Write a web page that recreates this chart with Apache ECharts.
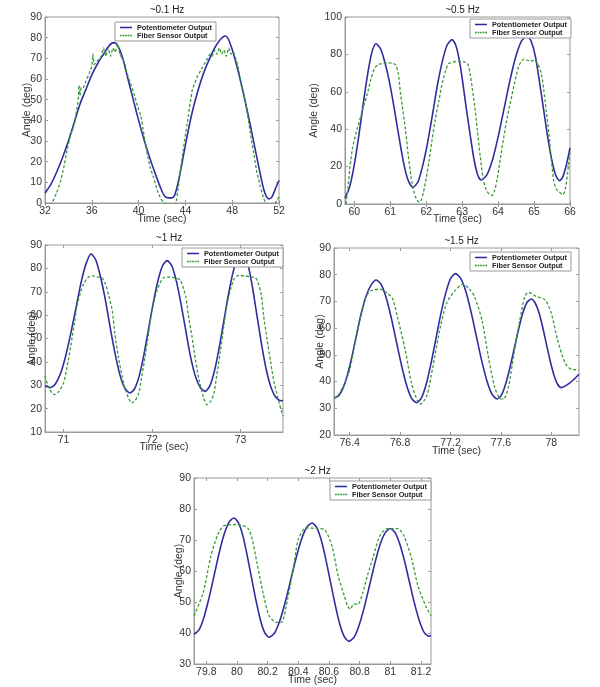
<!DOCTYPE html>
<html>
<head>
<meta charset="utf-8">
<script src="https://cdn.jsdelivr.net/npm/echarts@6/dist/echarts.min.js"></script>
<style>html,body{margin:0;padding:0;background:#fff}#c{width:600px;height:687px}</style>
</head>
<body>
<div id="c"></div>
<script>
// ---- Data (time in sec, angle in deg) ----
var titles = ['~0.1 Hz', '~0.5 Hz', '~1 Hz', '~1.5 Hz', '~2 Hz'];
var seriesNames = ['Potentiometer Output', 'Fiber Sensor Output'];

var p1Pot = [[32,4.8],[32.5,9],[33,15],[33.5,22],[34,30],[34.5,39],[35,48],[35.5,55],[36,62],[36.5,67.5],[37,72],[37.4,75.5],[37.7,77.3],[37.9,77.6],[38.1,77],[38.4,74],[38.7,69],[39,62],[39.5,51],[40,40],[40.5,30],[41,21],[41.5,13],[41.9,7],[42.2,3.5],[42.5,2.5],[42.8,2.5],[43.05,3.5],[43.3,8],[43.6,16],[44,28],[44.5,42],[45,53],[45.5,62],[46,69],[46.5,75],[46.9,78.5],[47.2,80.3],[47.4,80.8],[47.6,80],[47.8,77.5],[48.1,72.5],[48.5,64],[49,52],[49.5,39],[50,25],[50.4,14],[50.7,6.5],[50.95,2.8],[51.15,2],[51.4,3],[51.7,7],[52,11]];
var p1Fib = [[32,0],[32.3,-1],[32.6,0],[33,5],[33.3,10],[33.6,17],[33.9,26],[34.2,33],[34.5,38],[34.7,45],[34.85,50],[34.9,57],[35,52],[35.1,56],[35.3,56],[35.5,59],[35.8,63],[36,66],[36.1,72],[36.2,67],[36.5,69],[36.8,71],[37,75],[37.2,71],[37.4,75],[37.6,71],[37.8,75],[38,73],[38.2,77],[38.4,72],[38.6,70],[38.8,68],[39,63],[39.3,58],[39.6,53],[39.9,47],[40.2,42],[40.4,35],[40.6,28],[40.8,22],[41,17],[41.3,12],[41.6,6],[41.9,2],[42.2,0],[42.6,-1],[43,-1],[43.2,0],[43.4,8],[43.6,17],[43.8,25],[44,33],[44.2,40],[44.4,48],[44.6,55],[44.8,58],[45,61],[45.3,64],[45.6,67],[45.9,70],[46.1,72],[46.3,71],[46.5,74],[46.7,72],[46.9,75],[47.1,72],[47.3,74],[47.5,71],[47.7,75],[47.9,72],[48.1,73],[48.3,70],[48.5,66],[48.7,60],[49,53],[49.3,43],[49.6,32],[49.9,22],[50.1,15],[50.4,8],[50.7,2],[51,-1],[51.4,-1],[51.7,0],[52,3]];

var p2Pot = [[59.74,3.2],[59.85,8],[59.95,16],[60.05,27],[60.15,40],[60.25,54],[60.35,67],[60.43,76],[60.5,82],[60.6,85.7],[60.73,83],[60.86,75],[60.99,64],[61.12,50],[61.24,36],[61.37,22],[61.5,12.5],[61.63,8.9],[61.77,11.9],[61.9,20.4],[62.04,33],[62.18,48.4],[62.31,63.5],[62.45,76.4],[62.58,84.9],[62.72,87.9],[62.82,85],[62.92,76.9],[63.02,64.5],[63.12,50.4],[63.23,36],[63.33,23.8],[63.43,15.7],[63.53,12.8],[63.69,15.7],[63.85,24.1],[64.01,36.7],[64.17,51.4],[64.33,66.1],[64.49,78.7],[64.65,87.1],[64.81,90],[64.92,87],[65.04,78.7],[65.15,65.5],[65.26,51.3],[65.37,37],[65.49,23.8],[65.6,15.5],[65.71,12.5],[65.8,14.5],[65.9,21],[66,30]];
var p2Fib = [[59.77,0],[59.82,8],[59.88,20],[59.95,30],[60.05,38],[60.15,45],[60.25,52],[60.35,58],[60.45,66],[60.55,72],[60.65,74.5],[60.75,75],[60.9,75.5],[61.05,75.3],[61.15,74.5],[61.22,70],[61.28,60],[61.35,50],[61.42,40],[61.5,26],[61.58,14],[61.65,7],[61.72,3],[61.8,1],[61.85,1.5],[61.92,6],[62,14],[62.08,23],[62.16,34],[62.25,45],[62.35,55],[62.45,65],[62.55,72],[62.62,75],[62.75,76],[62.9,76.3],[63.05,76],[63.15,75],[63.22,70],[63.28,62],[63.35,52],[63.42,40],[63.5,26],[63.58,14],[63.66,8],[63.74,5.5],[63.83,4.6],[63.9,7],[63.97,13],[64.06,24],[64.16,36],[64.26,47],[64.36,56],[64.46,65],[64.56,73],[64.64,76],[64.72,77.5],[64.8,77],[64.9,76.3],[65,77],[65.1,75],[65.2,70],[65.27,61],[65.34,50],[65.41,38],[65.48,24],[65.55,12],[65.62,8],[65.7,6.5],[65.8,5],[65.87,8],[65.93,16],[66,28]];

var p3Pot = [[70.79,29.8],[70.85,29],[70.907,30.5],[70.965,35],[71.02,42],[71.08,52],[71.14,63],[71.195,73.5],[71.25,81.5],[71.31,86.2],[71.365,83.5],[71.42,76],[71.475,66],[71.53,54],[71.585,43],[71.64,34],[71.695,28.5],[71.75,26.7],[71.8025,28.5],[71.855,34],[71.9075,43],[71.96,54],[72.0125,65],[72.065,74.5],[72.1175,81],[72.17,83.3],[72.224,81],[72.278,74],[72.331,64],[72.385,52.5],[72.439,41.5],[72.493,33.5],[72.546,29],[72.6,27.4],[72.6525,29.7],[72.705,36.1],[72.7575,45.8],[72.81,57.2],[72.8625,68.6],[72.915,78.3],[72.9675,84.7],[73.02,87],[73.075,83],[73.13,73],[73.185,60],[73.24,47],[73.295,36],[73.35,28.5],[73.405,24.5],[73.46,23.4],[73.48,23.5]];
var p3Fib = [[70.79,34],[70.83,29],[70.87,26.7],[70.9,26],[70.95,27.5],[71,31],[71.04,38],[71.08,46.6],[71.12,56],[71.15,63.7],[71.19,69.5],[71.23,73.6],[71.28,76.2],[71.33,76.8],[71.38,76.3],[71.43,76],[71.47,73.6],[71.51,68.5],[71.55,62],[71.58,52],[71.62,42],[71.66,34],[71.7,28],[71.77,22.4],[71.81,23.5],[71.85,26.7],[71.88,33],[71.92,42],[71.96,52],[72,62],[72.06,71],[72.13,76],[72.2,76.3],[72.27,75.8],[72.32,75],[72.38,68],[72.41,60],[72.45,51],[72.49,41],[72.53,32.6],[72.58,25],[72.62,21.7],[72.66,23],[72.7,26.7],[72.73,34],[72.77,43.8],[72.81,55],[72.85,65],[72.92,75],[72.98,77],[73.05,76.8],[73.12,76.3],[73.17,76],[73.23,69.6],[73.26,60],[73.3,49.5],[73.34,40],[73.38,31],[73.44,22],[73.48,16.7]];

var p4Pot = [[76.275,33.75],[76.317,35],[76.359,39],[76.401,46],[76.443,55],[76.484,64],[76.526,71.5],[76.568,76],[76.61,78],[76.65,76.3],[76.69,71.3],[76.73,63.8],[76.77,55],[76.81,46.3],[76.85,38.8],[76.89,33.8],[76.93,32.1],[76.969,33.9],[77.008,39.2],[77.046,47],[77.085,56.2],[77.124,65.5],[77.163,73.3],[77.201,78.6],[77.24,80.4],[77.281,78.6],[77.323,73.5],[77.364,65.9],[77.405,57],[77.446,48.1],[77.488,40.4],[77.529,35.3],[77.57,33.5],[77.604,34.9],[77.637,39],[77.671,45.1],[77.705,52.2],[77.739,59.3],[77.772,65.4],[77.806,69.5],[77.84,70.9],[77.87,69.6],[77.9,66.1],[77.93,60.7],[77.96,54.3],[77.99,48],[78.02,42.6],[78.05,39],[78.08,37.75],[78.15,39.6],[78.22,42.75]];
var p4Fib = [[76.275,33.75],[76.31,35],[76.35,38.5],[76.4,44.4],[76.45,56.9],[76.49,65.6],[76.53,71.9],[76.57,74],[76.64,74.6],[76.7,73],[76.74,71],[76.78,64],[76.84,51.9],[76.89,39.4],[76.94,32.5],[76.96,31.6],[77.01,34.4],[77.06,45.6],[77.12,60.6],[77.17,69.4],[77.23,73.75],[77.3,76.5],[77.35,74.6],[77.39,71.9],[77.45,63],[77.5,49.4],[77.55,38],[77.59,33.75],[77.62,33.4],[77.66,38],[77.7,49.4],[77.75,63],[77.79,71.9],[77.82,73.4],[77.88,71.9],[77.95,70.6],[78,65.6],[78.05,55.6],[78.11,46.9],[78.16,44.6],[78.22,44.4]];

var p5Pot = [[79.72,39.6],[79.7525,41],[79.785,45.1],[79.8175,51.2],[79.85,58.3],[79.8825,65.5],[79.915,71.6],[79.9475,75.7],[79.98,77.1],[80.009,75.6],[80.038,71.5],[80.066,65.2],[80.095,57.8],[80.124,50.5],[80.153,44.2],[80.181,40.1],[80.21,38.6],[80.245,40],[80.28,44],[80.315,50],[80.35,57],[80.385,64.1],[80.42,70.1],[80.455,74.1],[80.49,75.5],[80.52,74],[80.55,69.9],[80.58,63.6],[80.61,56.4],[80.64,49.2],[80.67,42.9],[80.7,38.8],[80.73,37.3],[80.764,38.7],[80.797,42.6],[80.831,48.5],[80.865,55.5],[80.899,62.5],[80.932,68.4],[80.966,72.3],[81,73.7],[81.031,72.4],[81.062,68.6],[81.094,62.9],[81.125,56.3],[81.156,49.8],[81.188,44.1],[81.219,40.3],[81.25,39],[81.265,39.1]];
var p5Fib = [[79.72,45.5],[79.78,53],[79.83,64.8],[79.88,72.3],[79.92,74.7],[80,75],[80.07,73.9],[80.1,70.2],[80.13,62.7],[80.17,53],[80.21,45.5],[80.26,43.4],[80.29,43.4],[80.33,50.9],[80.37,61.6],[80.4,70.2],[80.45,73.9],[80.52,73.7],[80.57,73.4],[80.62,68],[80.66,58.4],[80.7,52],[80.72,48.8],[80.74,47.7],[80.76,49.3],[80.79,49.3],[80.82,53],[80.85,58.4],[80.89,64.8],[80.93,71.2],[80.98,73.7],[81.05,73.7],[81.09,71.2],[81.14,63.8],[81.18,55.2],[81.23,48.8],[81.265,45.5]];

// tick labels
var xTicks1 = [32,36,40,44,48,52];
var xTicks2 = [60,61,62,63,64,65,66];
var xTicks3 = [71,72,73];
var xTicks4 = [76.4,76.8,77.2,77.6,78];
var xTicks5 = [79.8,80,80.2,80.4,80.6,80.8,81,81.2];
var yRanges = [[0,90,10],[0,100,20],[10,90,10],[20,90,10],[30,90,10]];
var xRanges = [[32,52],[59.74,66],[70.79,73.48],[76.275,78.22],[79.72,81.265]];

// ---- Layout ----
var layout = [
  {l:45,t:17,w:234,h:186, lg:[115,22], yGap:12, xGap:11},
  {l:345,t:17,w:225,h:187, lg:[470,19], yGap:25, xGap:10},
  {l:45,t:245,w:238,h:187, lg:[182,248], yGap:7, xGap:10},
  {l:334,t:248,w:245,h:187, lg:[470,252], yGap:8, xGap:11},
  {l:194,t:478,w:237,h:187, lg:[330,481], yGap:9, xGap:11}
];
var pots = [p1Pot,p2Pot,p3Pot,p4Pot,p5Pot];
var fibs = [p1Fib,p2Fib,p3Fib,p4Fib,p5Fib];
var xTicks = [xTicks1,xTicks2,xTicks3,xTicks4,xTicks5];

var FONT = 'Liberation Sans, Arial, sans-serif';
var BLUE = '#2e2ea0', GREEN = '#3a9a3a', AX = '#9a9a9a';
var ICON_SOLID = 'path://M0,0H20V2.6H0Z';
var ICON_DASH = 'path://M0,0h3v2.6h-3zM4.25,0h3v2.6h-3zM8.5,0h3v2.6h-3zM12.75,0h3v2.6h-3zM17,0h3v2.6h-3z';
var grids=[], xAxes=[], yAxes=[], xTop=[], yRight=[], series=[], legends=[], tits=[];
var fmt = function(v){return String(+v.toFixed(1));};
for (var i=0;i<5;i++){
  var L = layout[i];
  grids.push({left:L.l, top:L.t, width:L.w, height:L.h, show:true, borderColor:AX, borderWidth:1, backgroundColor:'#fff'});
  tits.push({text:titles[i], left:L.l+L.w/2, top:L.t-17, textAlign:'center',
    textStyle:{fontSize:10, fontWeight:'normal', color:'#222', fontFamily:FONT}});
  var tick = {show:true, inside:true, length:3, lineStyle:{color:AX}};
  var lab = {color:'#333', fontSize:10.5, fontFamily:FONT, margin:3};
  var nts = {color:'#333', fontSize:10.5, fontFamily:FONT};
  xAxes.push({type:'value', gridIndex:i, min:xRanges[i][0], max:xRanges[i][1],
    name:'Time (sec)', nameLocation:'middle', nameGap:L.xGap, nameMoveOverlap:false, nameTextStyle:nts,
    axisLine:{show:true, lineStyle:{color:AX}}, splitLine:{show:false},
    axisTick:Object.assign({customValues:xTicks[i]}, tick),
    axisLabel:Object.assign({customValues:xTicks[i], formatter:fmt}, lab)});
  xTop.push({type:'value', gridIndex:i, position:'top', min:xRanges[i][0], max:xRanges[i][1],
    axisLine:{show:false}, splitLine:{show:false}, axisLabel:{show:false},
    axisTick:Object.assign({customValues:xTicks[i]}, tick)});
  yAxes.push({type:'value', gridIndex:i, min:yRanges[i][0], max:yRanges[i][1], interval:yRanges[i][2],
    name:'Angle (deg)', nameLocation:'middle', nameGap:L.yGap, nameRotate:90, nameMoveOverlap:false, nameTextStyle:nts,
    axisLine:{show:true, lineStyle:{color:AX}}, splitLine:{show:false}, axisTick:tick, axisLabel:lab});
  yRight.push({type:'value', gridIndex:i, position:'right', min:yRanges[i][0], max:yRanges[i][1], interval:yRanges[i][2],
    axisLine:{show:false}, splitLine:{show:false}, axisLabel:{show:false}, axisTick:tick});
  series.push({name:seriesNames[0], type:'line', xAxisIndex:i, yAxisIndex:i, data:pots[i],
    smooth:0.25, symbol:'none', lineStyle:{color:BLUE, width:1.6}, itemStyle:{color:BLUE}, z:2, animation:false});
  series.push({name:seriesNames[1], type:'line', xAxisIndex:i, yAxisIndex:i, data:fibs[i],
    smooth:i===0?0.1:0.25, symbol:'none', lineStyle:{color:GREEN, width:1.3, type:[3,2]}, itemStyle:{color:GREEN}, z:3, animation:false});
  legends.push({data:[{name:seriesNames[0], icon:ICON_SOLID},{name:seriesNames[1], icon:ICON_DASH}],
    orient:'vertical', left:L.lg[0], top:L.lg[1],
    backgroundColor:'#fff', borderColor:'#999', borderWidth:1, padding:[2,4,2,5], itemGap:1,
    itemWidth:12, itemHeight:7, selectedMode:false, z:10,
    textStyle:{fontSize:7.3, fontWeight:'bold', color:'#222', fontFamily:FONT}});
}

var chart = echarts.init(document.getElementById('c'), null, {renderer:'canvas'});
chart.setOption({
  backgroundColor:'#fff', animation:false,
  title:tits, grid:grids, xAxis:xAxes.concat(xTop), yAxis:yAxes.concat(yRight), legend:legends, series:series
});
</script>
</body>
</html>
